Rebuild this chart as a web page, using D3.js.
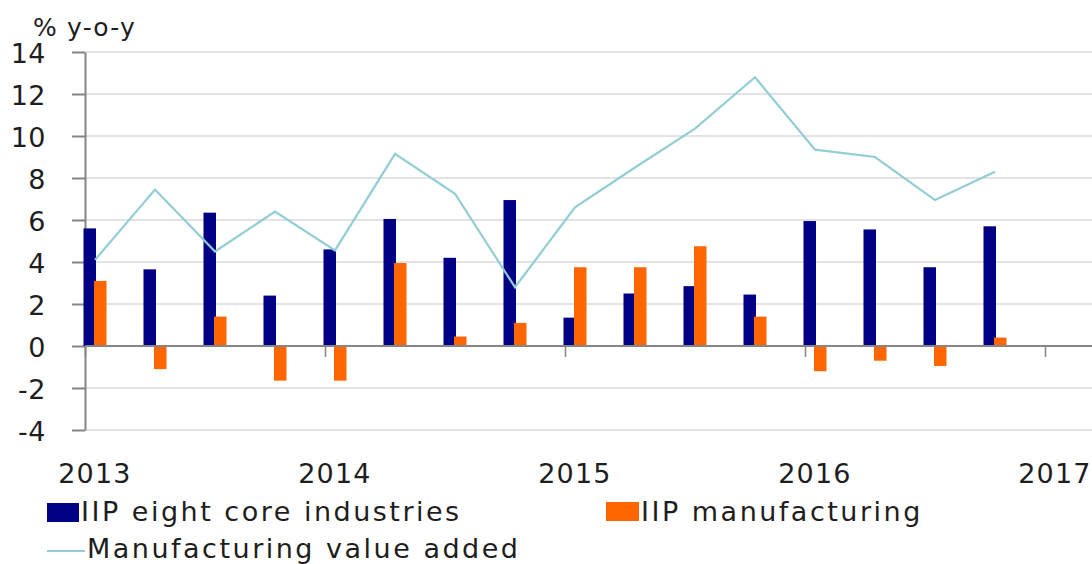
<!DOCTYPE html>
<html>
<head>
<meta charset="utf-8">
<script src="https://cdn.jsdelivr.net/npm/d3@7"></script>
<style>
  html, body { margin: 0; padding: 0; background: #ffffff; }
  svg { display: block; }
  text { font-family: "DejaVu Sans", Verdana, sans-serif; fill: #1e1e1e; }
</style>
</head>
<body>
<svg id="chart" width="1092" height="564"></svg>
<script>
// Quarterly growth rates, % y-o-y
const quarters = ["2013Q1","2013Q2","2013Q3","2013Q4","2014Q1","2014Q2","2014Q3","2014Q4",
                  "2015Q1","2015Q2","2015Q3","2015Q4","2016Q1","2016Q2","2016Q3","2016Q4"];
const coreIndustries = [5.6, 3.65, 6.35, 2.4, 4.6, 6.05, 4.2, 6.95, 1.35, 2.5, 2.85, 2.45, 5.95, 5.55, 3.75, 5.7];
const iipManufacturing = [3.1, -1.1, 1.4, -1.65, -1.65, 3.95, 0.45, 1.1, 3.75, 3.75, 4.75, 1.4, -1.2, -0.7, -0.95, 0.4];
const valueAdded = [4.1, 7.45, 4.5, 6.4, 4.55, 9.15, 7.25, 2.8, 6.6, 8.5, 10.35, 12.8, 9.35, 9.0, 6.95, 8.3];
const yTicks = [-4, -2, 0, 2, 4, 6, 8, 10, 12, 14];
const years = ["2013", "2014", "2015", "2016", "2017"];
const seriesNames = ["IIP eight core industries", "IIP manufacturing", "Manufacturing value added"];

const colors = { core: "#000085", manu: "#ff6600", line: "#92cdd6", grid: "#e3e3e3", axis: "#858585" };

const svg = d3.select("#chart");
const plotLeft = 85, plotRight = 1092, plotTop = 52, plotBottom = 430;

// Time axis in months from Jan 2013; each quarter sits in the slot of its first month
const x = d3.scaleLinear().domain([0, 48]).range([plotLeft, 1045]);
const y = d3.scaleLinear().domain([-4, 14]).range([plotBottom, plotTop]);
const qCenter = i => x(3 * i + 0.5);

// Horizontal gridlines
svg.append("g").selectAll("line").data(yTicks.filter(v => v !== 0)).join("line")
  .attr("x1", plotLeft).attr("x2", plotRight)
  .attr("y1", d => y(d)).attr("y2", d => y(d))
  .attr("stroke", colors.grid).attr("stroke-width", 2);

// Y axis with outward ticks
const yAxis = svg.append("g").attr("transform", `translate(${plotLeft},0)`)
  .call(d3.axisLeft(y).tickValues(yTicks).tickSize(13).tickSizeOuter(0).tickPadding(0)
    .tickFormat(d => d < 0 ? "-" + Math.abs(d) : String(d)));
yAxis.select(".domain").attr("stroke", colors.axis).attr("stroke-width", 2);
yAxis.selectAll(".tick line").attr("stroke", colors.axis).attr("stroke-width", 2);
yAxis.selectAll(".tick text")
  .attr("x", -39).attr("dy", "0.37em")
  .attr("text-anchor", "end")
  .style("font-size", "27px").style("letter-spacing", "0.5px")
  .style("font-family", "DejaVu Sans, sans-serif").attr("fill", "#1e1e1e");

// Unit label
svg.append("text").attr("x", 33).attr("y", 36)
  .style("font-size", "25px").style("letter-spacing", "1.2px")
  .text("% y-o-y");

// Bars
const barW = 12.5;
svg.append("g").selectAll("rect").data(coreIndustries).join("rect")
  .attr("x", (d, i) => qCenter(i) - 11.5)
  .attr("width", barW)
  .attr("y", d => y(Math.max(0, d)))
  .attr("height", d => Math.abs(y(d) - y(0)))
  .attr("fill", colors.core);

svg.append("g").selectAll("rect").data(iipManufacturing).join("rect")
  .attr("x", (d, i) => qCenter(i) - 1)
  .attr("width", barW)
  .attr("y", d => y(Math.max(0, d)))
  .attr("height", d => Math.abs(y(d) - y(0)))
  .attr("fill", colors.manu);

// Zero axis with year ticks
const xAxis = svg.append("g").attr("transform", `translate(0,${y(0)})`)
  .call(d3.axisBottom(x).tickValues([0, 12, 24, 36, 48]).tickSize(11).tickSizeOuter(0).tickFormat(""));
xAxis.select(".domain").attr("d", `M${plotLeft},0H${plotRight}`).attr("stroke", colors.axis).attr("stroke-width", 2);
xAxis.selectAll(".tick line").attr("stroke", colors.axis).attr("stroke-width", 1.5);

// Line series
const line = d3.line().x((d, i) => qCenter(i)).y(d => y(d));
svg.append("path").datum(valueAdded)
  .attr("d", line).attr("fill", "none")
  .attr("stroke", colors.line).attr("stroke-width", 2.2).attr("stroke-linejoin", "miter");

// Year labels, centred on the January slot
svg.append("g").selectAll("text").data(years).join("text")
  .attr("x", (d, i) => x(12 * i + 0.5))
  .attr("y", 483)
  .attr("text-anchor", "middle")
  .style("font-size", "27px").style("letter-spacing", "1.2px")
  .text(d => d);

// Legend
const legendFont = "27px", legendSpacing = "2.5px";
const lg = svg.append("g");
lg.append("rect").attr("x", 47).attr("y", 503).attr("width", 32).attr("height", 19).attr("fill", colors.core);
lg.append("text").attr("x", 81).attr("y", 521)
  .style("font-size", legendFont).style("letter-spacing", legendSpacing).text(seriesNames[0]);
lg.append("rect").attr("x", 606).attr("y", 502).attr("width", 33).attr("height", 19).attr("fill", colors.manu);
lg.append("text").attr("x", 641).attr("y", 521)
  .style("font-size", legendFont).style("letter-spacing", legendSpacing).text(seriesNames[1]);
lg.append("line").attr("x1", 47).attr("x2", 85).attr("y1", 551).attr("y2", 551)
  .attr("stroke", colors.line).attr("stroke-width", 2.2);
lg.append("text").attr("x", 87).attr("y", 558)
  .style("font-size", legendFont).style("letter-spacing", legendSpacing).text(seriesNames[2]);
</script>
</body>
</html>
